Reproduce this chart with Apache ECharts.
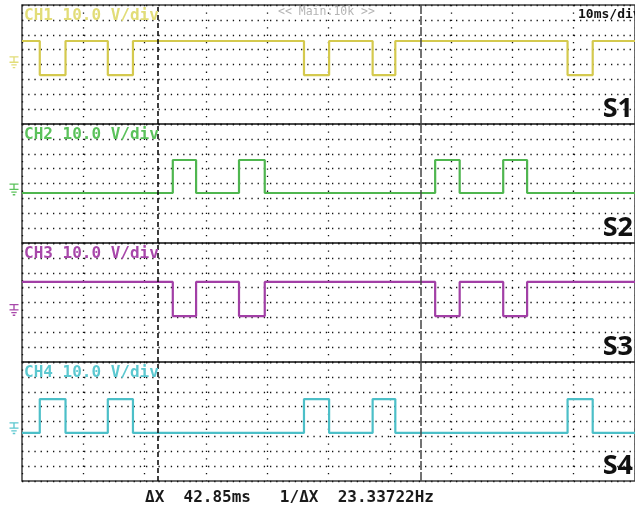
<!DOCTYPE html>
<html>
<head>
<meta charset="utf-8">
<script src="https://cdn.jsdelivr.net/npm/echarts@6/dist/echarts.min.js"></script>
<style>html,body{margin:0;padding:0;background:#fff}#c{width:635px;height:513px}</style>
</head>
<body>
<div id="c"></div>
<script>
// ---- data (time in ms, 10 ms/div; level in vertical divisions) ----
const channelNames = ['CH1', 'CH2', 'CH3', 'CH4'];
const channelLabels = ['CH1 10.0 V/div', 'CH2 10.0 V/div', 'CH3 10.0 V/div', 'CH4 10.0 V/div'];
const sideLabels = ['S1', 'S2', 'S3', 'S4'];
const ch1Edges = [2.9, 7.1, 14.0, 18.1, 46.0, 50.1, 57.2, 60.9, 89.0, 93.1];
const ch2Edges = [24.6, 28.4, 35.4, 39.6, 67.4, 71.4, 78.5, 82.4];
const ch3Edges = [24.6, 28.4, 35.4, 39.6, 67.4, 71.4, 78.5, 82.4];
const ch4Edges = [2.9, 7.1, 14.0, 18.1, 46.0, 50.1, 57.2, 60.9, 89.0, 93.1];
const startHigh = [true, false, true, false];
const levelHigh = [1.58, 1.58, 1.38, 1.51];
const levelLow = [-0.71, -0.64, -0.91, -0.77];
const groundLevel = [0.15, -0.4, -0.5, -0.45];
const cursorA = 22.2;
const deltaX = 42.85;
const timeMin = 0, timeMax = 100, timeInterval = 10;
const divMin = -4, divMax = 4;
const headerText = '<< Main:10k >>';
const timebaseText = '10ms/div';
const readoutText = '\u0394X  42.85ms   1/\u0394X  23.33722Hz';

// ---- styles ----
const traceColors = ['#d4c94e', '#4fb64f', '#a23fa6', '#4cbfc8'];
const labelColors = ['#e2dd78', '#5cc25c', '#a848aa', '#5cc8d0'];
const tops = [5, 124, 243, 362];
const panelH = 119;
const allEdges = [ch1Edges, ch2Edges, ch3Edges, ch4Edges];

function wave(edges, high, hi, lo) {
  const pts = [[timeMin, high ? hi : lo]];
  edges.forEach(t => {
    pts.push([t, high ? hi : lo]);
    high = !high;
    pts.push([t, high ? hi : lo]);
  });
  pts.push([timeMax, high ? hi : lo]);
  return pts;
}

const gndPath = 'path://M0,0H10V1.5H0Z M4.25,1.5H5.75V6H4.25Z M0,6H10V7.5H0Z M2,9H8V10.5H2Z M3.6,12H6.4V13.5H3.6Z';

const grid = [], xAxis = [], yAxis = [], series = [], graphic = [];
channelNames.forEach((name, i) => {
  grid.push({left: 22, width: 619, top: tops[i], height: panelH, show: true,
    borderColor: '#3c3c3c', borderWidth: 1.5, backgroundColor: 'transparent'});
  xAxis.push({gridIndex: i, type: 'value', min: timeMin, max: timeMax, interval: timeInterval,
    axisLine: {show: false}, axisTick: {show: false}, axisLabel: {show: false},
    splitLine: {show: true, lineStyle: {color: '#111', width: 1.3, type: [1.3, 6.1]}}});
  yAxis.push({gridIndex: i, type: 'value', min: divMin, max: divMax, interval: 1,
    axisLine: {show: false}, axisTick: {show: false}, axisLabel: {show: false},
    splitLine: {show: true, lineStyle: {color: '#111', width: 1.3, type: [1.3, 4.9]}}});
  series.push({
    name, type: 'line', xAxisIndex: i, yAxisIndex: i, showSymbol: false, animation: false,
    data: wave(allEdges[i], startHigh[i], levelHigh[i], levelLow[i]),
    lineStyle: {color: traceColors[i], width: 2.2},
    markLine: {silent: true, symbol: 'none', animation: false, label: {show: false},
      data: [
        {xAxis: cursorA, lineStyle: {color: '#000', width: 1.5, type: [5, 3]}},
        {xAxis: cursorA + deltaX, lineStyle: {color: '#444', width: 1.5, type: [9, 2]}}
      ]},
    markPoint: {silent: true, animation: false, symbol: gndPath, symbolSize: [9, 12],
      symbolOffset: [-8, 0], itemStyle: {color: labelColors[i]}, label: {show: false},
      data: [{coord: [timeMin, groundLevel[i]]}]}
  });
  graphic.push({type: 'text', x: 24, y: tops[i] + 11, z: 10,
    style: {text: channelLabels[i], fill: labelColors[i], font: 'bold 16px "DejaVu Sans Mono"', textVerticalAlign: 'middle'}});
  graphic.push({type: 'text', x: 633, y: tops[i] + 104, z: 10,
    style: {text: sideLabels[i], fill: '#111', font: 'bold 27px "Open Sans"', textAlign: 'right', textVerticalAlign: 'middle'}});
});
graphic.push({type: 'text', x: 278, y: 12, z: 10,
  style: {text: headerText, fill: '#b4b4b4', font: '11.5px "DejaVu Sans Mono"', textVerticalAlign: 'middle'}});
graphic.push({type: 'text', x: 578, y: 15, z: 10,
  style: {text: timebaseText, fill: '#111', font: 'bold 13px "DejaVu Sans Mono"', textVerticalAlign: 'middle'}});
graphic.push({type: 'text', x: 145, y: 498, z: 10,
  style: {text: readoutText, fill: '#1a1a1a', font: 'bold 16px "DejaVu Sans Mono"', textVerticalAlign: 'middle'}});

const chart = echarts.init(document.getElementById('c'));
chart.setOption({animation: false, backgroundColor: '#fff', grid, xAxis, yAxis, series, graphic});
</script>
</body>
</html>
